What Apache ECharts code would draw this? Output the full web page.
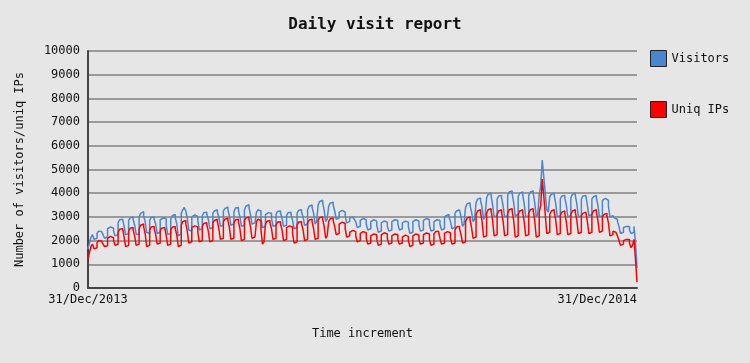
<!DOCTYPE html>
<html>
<head>
<meta charset="utf-8">
<script src="https://cdn.jsdelivr.net/npm/echarts@6/dist/echarts.min.js"></script>
<style>
html,body{margin:0;padding:0;background:#e6e6e6;}
#chart{width:750px;height:363px;}
</style>
</head>
<body>
<div id="chart"></div>
<script>
var startDate = [2013, 11, 31];
var xTickLabels = ['31/Dec/2013', '31/Dec/2014'];
var yTicks = [0,1000,2000,3000,4000,5000,6000,7000,8000,9000,10000];
var seriesNames = ['Visitors', 'Uniq IPs'];

var visitors = [
1650,1900,2150,2250,2050,2100,
2300,2400,2380,2350,2250,2100,2150,
2500,2580,2600,2520,2400,2200,2250,
2750,2880,2900,2820,2600,2250,2300,
2850,2950,3000,2900,2650,2280,2250,
3000,3150,3220,3050,2800,2350,2300,
2850,2980,3000,2900,2700,2300,2350,
2880,2950,3020,2920,2650,2250,2300,
2900,3050,3100,2980,2700,2200,2280,
3150,3300,3400,3250,2950,2450,2400,
3000,3080,3100,3020,2850,2450,2500,
3050,3180,3200,3100,2900,2500,2550,
3150,3250,3300,3200,3000,2600,2650,
3250,3350,3420,3300,3050,2650,2700,
3200,3380,3400,3280,3000,2600,2650,
3300,3450,3520,3400,3100,2700,2750,
2750,3200,3300,3250,2900,2550,2600,
3100,3180,3200,3150,2950,2600,2650,
3100,3230,3250,3150,2950,2600,2650,
3050,3180,3200,3100,2850,2500,2550,
3150,3280,3300,3200,3000,2650,2700,
3300,3450,3500,3400,3150,2700,2800,
3500,3650,3700,3600,3300,2800,2900,
3450,3580,3620,3500,3250,2900,2950,
3200,3280,3300,3200,3050,2750,2800,
2950,3000,2980,2900,2800,2550,2600,
2850,2930,2950,2880,2700,2450,2500,
2800,2880,2900,2820,2650,2350,2400,
2750,2830,2850,2780,2600,2400,2450,
2800,2880,2920,2850,2700,2450,2500,
2750,2820,2850,2780,2600,2300,2350,
2800,2880,2900,2830,2650,2400,2450,
2850,2930,2950,2880,2680,2400,2450,
2800,2880,2900,2850,2700,2450,2500,
2950,3050,3100,3000,2800,2500,2550,
3150,3250,3300,3220,3000,2600,2700,
3400,3550,3600,3500,3200,2800,2900,
3600,3750,3800,3700,3400,2900,3000,
3800,3950,4000,3900,3500,3000,3050,
3750,3880,3900,3800,3450,3000,3050,
3900,4050,4100,3980,3600,3050,3100,
3850,4000,4050,3950,3550,3000,3050,
3900,4050,4100,4000,3600,3000,3100,
3950,4300,5400,4700,4000,3300,3200,
3850,3950,4000,3900,3550,3000,3050,
3750,3880,3900,3800,3500,3000,3050,
3800,3950,4000,3900,3550,3000,3050,
3750,3880,3900,3820,3500,3050,3100,
3750,3850,3900,3800,3500,3000,3050,
3700,3780,3800,3700,3450,3000,3050,
3000,2950,2900,2800,2600,2300,2350,
2550,2600,2650,2600,2450,2300,2350,
2600,1900,850
];

var uniqIPs = [
1200,1500,1750,1850,1650,1700,
1900,2000,1980,1950,1850,1750,1780,
2100,2180,2200,2120,2000,1800,1850,
2350,2480,2500,2420,2150,1750,1800,
2400,2520,2550,2450,2200,1800,1850,
2500,2650,2700,2580,2300,1750,1800,
2450,2570,2600,2500,2250,1850,1900,
2420,2520,2550,2480,2200,1800,1850,
2450,2560,2600,2500,2250,1750,1800,
2650,2800,2850,2720,2400,1900,1950,
2550,2620,2650,2580,2350,1950,2000,
2600,2720,2750,2650,2400,1950,2000,
2750,2850,2900,2800,2500,2050,2100,
2800,2900,2950,2850,2550,2050,2100,
2750,2880,2900,2800,2500,2000,2050,
2850,2950,3000,2900,2600,2100,2150,
2200,2800,2900,2850,2450,1850,1950,
2700,2820,2850,2750,2500,2050,2100,
2650,2780,2800,2700,2450,2000,2050,
2550,2620,2650,2580,2300,1900,1950,
2650,2780,2800,2700,2450,2000,2050,
2750,2870,2900,2800,2500,2050,2100,
2850,2970,3000,2900,2600,2100,2200,
2800,2920,2950,2850,2600,2250,2300,
2700,2780,2800,2720,2500,2150,2200,
2350,2430,2450,2380,2200,1950,2000,
2300,2380,2400,2330,2100,1850,1900,
2200,2280,2300,2250,2050,1800,1850,
2250,2330,2350,2280,2100,1850,1900,
2200,2280,2300,2250,2050,1850,1900,
2150,2230,2250,2180,2000,1750,1800,
2200,2280,2300,2240,2050,1850,1900,
2250,2320,2350,2280,2050,1800,1850,
2280,2370,2400,2330,2100,1850,1900,
2300,2380,2400,2330,2100,1850,1900,
2450,2570,2600,2500,2250,1900,1950,
2800,2950,3000,2880,2550,2100,2150,
3100,3250,3300,3180,2800,2150,2200,
3150,3300,3350,3250,2850,2200,2250,
3100,3250,3300,3200,2800,2200,2250,
3150,3300,3350,3250,2850,2150,2200,
3100,3250,3300,3200,2800,2200,2250,
3150,3300,3350,3250,2850,2150,2200,
3200,3500,4600,3900,3100,2300,2350,
3100,3250,3300,3200,2850,2250,2300,
3050,3200,3250,3150,2800,2250,2300,
3100,3250,3300,3200,2850,2300,2350,
3050,3150,3200,3120,2800,2300,2350,
3100,3250,3300,3200,2850,2350,2400,
3000,3100,3150,3050,2750,2200,2250,
2400,2350,2300,2200,2000,1800,1850,
2000,2050,2100,2050,1900,1700,1800,
2050,1200,250
];

var monthNames = ['Jan','Feb','Mar','Apr','May','Jun','Jul','Aug','Sep','Oct','Nov','Dec'];
var categories = [];
for (var i = 0; i < visitors.length; i++) {
  var d = new Date(startDate[0], startDate[1], startDate[2] + i);
  var dd = (d.getDate() < 10 ? '0' : '') + d.getDate();
  categories.push(dd + '/' + monthNames[d.getMonth()] + '/' + d.getFullYear());
}
var lastIdx = categories.length - 1;

var font = 'DejaVu Sans Mono';
var chart = echarts.init(document.getElementById('chart'), null, {renderer: 'canvas'});
chart.setOption({
  backgroundColor: '#e6e6e6',
  animation: false,
  title: {
    text: 'Daily visit report',
    left: 'center',
    top: 12,
    textStyle: {fontFamily: font, fontSize: 16, fontWeight: 'bold', color: '#111'}
  },
  legend: {
    orient: 'vertical',
    left: 645,
    top: 45,
    itemWidth: 16,
    itemHeight: 16,
    itemGap: 34,
    icon: 'rect',
    data: seriesNames,
    textStyle: {fontFamily: font, fontSize: 12, color: '#111'},
    itemStyle: {borderColor: '#222', borderWidth: 1}
  },
  grid: {left: 88, right: 113, top: 51, bottom: 75, containLabel: false},
  xAxis: {
    type: 'category',
    data: categories,
    boundaryGap: false,
    name: 'Time increment',
    nameLocation: 'middle',
    nameGap: 40,
    nameTextStyle: {fontFamily: font, fontSize: 12, color: '#111'},
    axisLine: {lineStyle: {color: '#444', width: 2}},
    axisTick: {show: false},
    axisLabel: {
      fontFamily: font, fontSize: 12, color: '#111', margin: 6,
      interval: function (idx) { return idx === 0 || idx === lastIdx; },
      formatter: function (v, idx) { return idx === 0 ? xTickLabels[0] : xTickLabels[1]; },
      alignMaxLabel: 'right'
    },
    splitLine: {show: false}
  },
  yAxis: {
    type: 'value',
    min: yTicks[0],
    max: yTicks[yTicks.length - 1],
    interval: yTicks[1] - yTicks[0],
    name: 'Number of visitors/uniq IPs',
    nameLocation: 'middle',
    nameGap: 62,
    nameTextStyle: {fontFamily: font, fontSize: 12, color: '#111'},
    axisLine: {show: true, lineStyle: {color: '#444', width: 2}},
    axisTick: {show: false},
    axisLabel: {fontFamily: font, fontSize: 12, color: '#111', margin: 8,
      formatter: function (v) { return String(v); }},
    splitLine: {lineStyle: {color: '#9a9a9a', width: 2}}
  },
  series: [
    {
      name: seriesNames[0], type: 'line', data: visitors, showSymbol: false, step: 'end',
      color: '#4a86d0', lineStyle: {width: 1.5, color: '#4a86d0'}, z: 2
    },
    {
      name: seriesNames[1], type: 'line', data: uniqIPs, showSymbol: false, step: 'end',
      color: '#ff0000', lineStyle: {width: 1.5, color: '#ff0000'}, z: 3
    }
  ]
});
</script>
</body>
</html>
